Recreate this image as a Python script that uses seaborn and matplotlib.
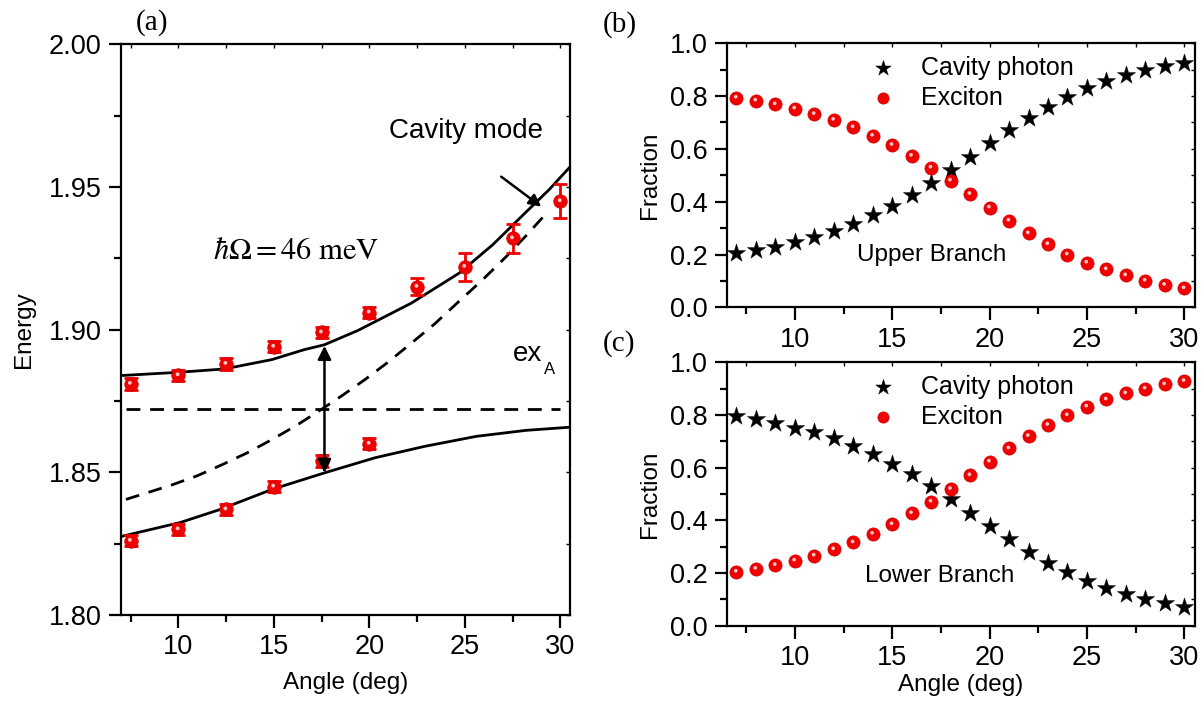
import numpy as np
import pandas as pd
import matplotlib
matplotlib.use("Agg")
import matplotlib.pyplot as plt
import seaborn as sns
from matplotlib.transforms import ScaledTranslation

# ---- panel (a): dispersion data ----
angle_pts = [7.5, 10, 12.5, 15, 17.5, 20, 22.5, 25, 27.5, 30]
upper_pts = [1.881, 1.884, 1.888, 1.894, 1.899, 1.906, 1.915, 1.922, 1.932, 1.945]
upper_err = [0.002, 0.002, 0.002, 0.002, 0.002, 0.002, 0.003, 0.005, 0.005, 0.006]
lower_angle_pts = [7.5, 10, 12.5, 15, 17.5, 20]
lower_pts = [1.826, 1.830, 1.837, 1.845, 1.854, 1.860]
lower_err = [0.002, 0.002, 0.002, 0.002, 0.002, 0.002]

# fitted polariton branches
upper_angle = [7.0, 9.9, 12.4, 14.9, 16.6, 17.65, 19.4, 22.2, 24.7, 26.45, 28.2, 29.4, 30.5]
upper_fit = [1.8839, 1.8850, 1.8862, 1.8895, 1.8930, 1.8947, 1.8997, 1.9093, 1.9198, 1.9297,
             1.9412, 1.9490, 1.9570]
lower_angle = [7.0, 10.1, 12.2, 14.9, 17.65, 20.3, 22.9, 25.6, 28.2, 30.5]
lower_fit = [1.8275, 1.8324, 1.8370, 1.8440, 1.8498, 1.8551, 1.8591, 1.8626, 1.8647, 1.8658]

cavity_angle = [7.26, 9.63, 11.0, 12.27, 13.6, 14.91, 16.2, 17.48, 18.6, 19.77, 20.9, 22.06,
                23.4, 24.69, 25.9, 27.15, 28.2, 29.3]
cavity_fit = [1.8405, 1.8455, 1.8488, 1.8526, 1.8568, 1.8615, 1.8665, 1.8720, 1.8770, 1.8825,
              1.8882, 1.8945, 1.9019, 1.9099, 1.9173, 1.9255, 1.9329, 1.9410]
exciton_angle = [7.26, 30.0]
exciton_level = [1.8722, 1.8722]

# ---- panels (b) and (c): Hopfield fractions ----
frac_angle = list(range(7, 31))
ub_photon = [0.205, 0.217, 0.230, 0.246, 0.265, 0.289, 0.314, 0.348, 0.384, 0.424, 0.472, 0.520,
             0.571, 0.621, 0.672, 0.718, 0.760, 0.798, 0.830, 0.857, 0.880, 0.899, 0.915, 0.927]
ub_exciton = [0.794, 0.783, 0.769, 0.753, 0.732, 0.710, 0.682, 0.650, 0.615, 0.574, 0.529, 0.480,
              0.429, 0.378, 0.328, 0.280, 0.239, 0.200, 0.169, 0.144, 0.121, 0.101, 0.085, 0.072]
lb_photon = [0.796, 0.784, 0.768, 0.752, 0.734, 0.711, 0.684, 0.652, 0.614, 0.575, 0.530, 0.480,
             0.429, 0.378, 0.328, 0.281, 0.239, 0.203, 0.171, 0.142, 0.119, 0.101, 0.085, 0.072]
lb_exciton = [0.205, 0.216, 0.230, 0.247, 0.266, 0.290, 0.316, 0.349, 0.385, 0.427, 0.471, 0.519,
              0.571, 0.623, 0.673, 0.720, 0.762, 0.799, 0.832, 0.859, 0.882, 0.900, 0.916, 0.929]

sns.set_theme(style="ticks")
plt.rcParams["font.family"] = ["Liberation Sans", "DejaVu Sans"]
plt.rcParams["mathtext.fontset"] = "stix"
plt.rcParams["text.color"] = "black"
plt.rcParams["axes.labelcolor"] = "black"
plt.rcParams["xtick.color"] = "black"
plt.rcParams["ytick.color"] = "black"

RED = "#f00000"
FS_TICK = 19.5
FS_LAB = 17.5
SERIF = ["Liberation Serif", "DejaVu Serif"]

fig = plt.figure(figsize=(12.04, 7.05), dpi=100)
ax_a = fig.add_axes([0.1005, 0.1277, 0.3729, 0.8095])
ax_b = fig.add_axes([0.6036, 0.5641, 0.3889, 0.3745])
ax_c = fig.add_axes([0.6036, 0.1125, 0.3889, 0.3736])


def style_axes(ax, xt, xm, yt, ym):
    for sp in ax.spines.values():
        sp.set_linewidth(1.6)
        sp.set_color("black")
    ax.set_xticks(xt)
    ax.set_xticks(xm, minor=True)
    ax.set_yticks(yt)
    ax.set_yticks(ym, minor=True)
    ax.tick_params(which="major", direction="out", length=9, width=1.6,
                   labelsize=FS_TICK, colors="black", pad=5)
    ax.tick_params(which="minor", direction="out", length=5, width=1.6)
    ax.grid(False)
    # tiny inward marks on the top and right frame
    top = ax.secondary_xaxis("top")
    top.set_xticks(list(xt) + list(xm))
    top.tick_params(direction="in", length=3, width=1.0, labeltop=False)
    top.spines["top"].set_visible(False)
    right = ax.secondary_yaxis("right")
    right.set_yticks(list(yt) + list(ym))
    right.tick_params(direction="in", length=3, width=1.0, labelright=False)
    right.spines["right"].set_visible(False)


def spheres(ax, x, y, size, label=None):
    sns.scatterplot(x=x, y=y, ax=ax, marker="o", s=size, color=RED,
                    edgecolor="#d00000", linewidth=0.5, label=label, zorder=4)
    off = ScaledTranslation(-0.5 / 72, 0.7 / 72, fig.dpi_scale_trans)
    ax.scatter(x, y, s=size * 0.08, color="#ffc4c4", edgecolor="none",
               transform=ax.transData + off, zorder=5)


def stars(ax, x, y, label=None):
    sns.scatterplot(x=x, y=y, ax=ax, marker="*", s=190, color="black",
                    edgecolor="black", linewidth=0.3, label=label, zorder=4)


# ---- panel (a) ----
sns.lineplot(x=upper_angle, y=upper_fit, ax=ax_a, color="black", lw=2, zorder=3)
sns.lineplot(x=lower_angle, y=lower_fit, ax=ax_a, color="black", lw=2, zorder=3)
sns.lineplot(x=cavity_angle, y=cavity_fit, ax=ax_a, color="black", lw=2,
             linestyle=(0, (5, 3.5)), zorder=3)
sns.lineplot(x=exciton_angle, y=exciton_level, ax=ax_a, color="black", lw=2,
             linestyle=(0, (5, 3.5)), zorder=3)

ax_a.errorbar(angle_pts, upper_pts, yerr=upper_err, fmt="none", ecolor=RED,
              elinewidth=2, capsize=5, capthick=2, zorder=4)
ax_a.errorbar(lower_angle_pts, lower_pts, yerr=lower_err, fmt="none", ecolor=RED,
              elinewidth=2, capsize=5, capthick=2, zorder=4)
spheres(ax_a, angle_pts, upper_pts, 95)
spheres(ax_a, lower_angle_pts, lower_pts, 95)

ax_a.annotate("", xy=(17.65, 1.8943), xytext=(17.65, 1.8498),
              arrowprops=dict(arrowstyle="<|-|>", color="black", lw=1.8,
                              mutation_scale=20, shrinkA=0, shrinkB=0), zorder=6)
ax_a.annotate("", xy=(29.0, 1.9431), xytext=(26.9, 1.9536),
              arrowprops=dict(arrowstyle="-|>", color="black", lw=1.8,
                              mutation_scale=18, shrinkA=0, shrinkB=0), zorder=6)
ax_a.text(21.05, 1.9695, "Cavity mode", fontsize=20, ha="left", va="center")
ax_a.text(11.8, 1.9275, r"$\hbar\Omega = 46\ \mathrm{meV}$", fontsize=22,
          ha="left", va="center")
ax_a.text(27.5, 1.8916, "ex", fontsize=20, ha="left", va="center")
ax_a.text(29.15, 1.8862, "A", fontsize=12, ha="left", va="center")
ax_a.text(0.07, 1.015, "(a)", transform=ax_a.transAxes, fontsize=21,
          family=SERIF, ha="center", va="bottom")

ax_a.set_xlim(7.0, 30.5)
ax_a.set_ylim(1.80, 2.00)
style_axes(ax_a, [10, 15, 20, 25, 30], [7.5, 12.5, 17.5, 22.5, 27.5],
           [1.80, 1.85, 1.90, 1.95, 2.00], [1.825, 1.875, 1.925, 1.975])
ax_a.set_yticklabels(["1.80", "1.85", "1.90", "1.95", "2.00"])
ax_a.set_xlabel("Angle (deg)", fontsize=FS_LAB, labelpad=8)
ax_a.set_ylabel("Energy", fontsize=FS_LAB, labelpad=10)

# ---- panels (b), (c) ----
for ax, ph, ex, branch, bx, by, tag, ty in [
        (ax_b, ub_photon, ub_exciton, "Upper Branch", 0.437, 0.198, "(b)", 1.07),
        (ax_c, lb_photon, lb_exciton, "Lower Branch", 0.455, 0.189, "(c)", 1.07)]:
    stars(ax, frac_angle, ph, label="Cavity photon")
    spheres(ax, frac_angle, ex, 90, label="Exciton")
    ax.set_xlim(6.5, 30.55)
    ax.set_ylim(0.0, 1.0)
    style_axes(ax, [10, 15, 20, 25, 30], [7.5, 12.5, 17.5, 22.5, 27.5],
               [0.0, 0.2, 0.4, 0.6, 0.8, 1.0], [0.1, 0.3, 0.5, 0.7, 0.9])
    ax.set_yticklabels(["0.0", "0.2", "0.4", "0.6", "0.8", "1.0"])
    ax.set_ylabel("Fraction", fontsize=FS_LAB, labelpad=6)
    ax.set_xlabel("")
    ax.legend(loc="upper left", bbox_to_anchor=(0.27, 1.01), frameon=False,
              fontsize=18, handletextpad=0.9, labelspacing=0.25,
              markerscale=0.85, borderaxespad=0.2, handlelength=1.2)
    ax.text(bx, by, branch, transform=ax.transAxes, fontsize=FS_LAB,
            ha="center", va="center")
    ax.text(-0.265, ty, tag, transform=ax.transAxes, fontsize=21,
            family=SERIF, ha="left", va="center")

ax_c.set_xlabel("Angle (deg)", fontsize=FS_LAB, labelpad=2)

fig.savefig("out.png", dpi=100)
